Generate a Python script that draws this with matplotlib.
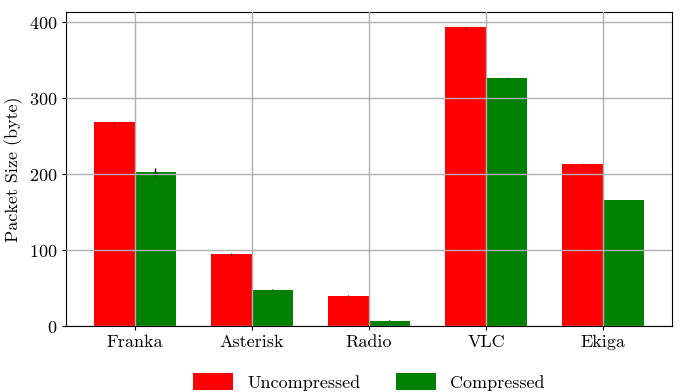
import matplotlib
matplotlib.use("Agg")
import matplotlib.pyplot as plt
import numpy as np

plt.rcParams['font.family'] = ['cmr10', 'DejaVu Serif']
plt.rcParams['mathtext.fontset'] = 'cm'
plt.rcParams['axes.formatter.use_mathtext'] = True
plt.rcParams['font.size'] = 13

apps = ['Franka', 'Asterisk', 'Radio', 'VLC', 'Ekiga']
uncompressed = [268, 95, 40, 393, 213]
compressed = [203, 48, 7, 326, 166]
err_unc = [1, 1, 0.5, 1, 1]
err_comp = [5, 1, 0.5, 0.5, 0.5]

x = np.arange(len(apps))
w = 0.35

fig, ax = plt.subplots(figsize=(6.8, 3.92), dpi=100)
ax.bar(x - w / 2, uncompressed, w, yerr=err_unc, color='red',
       error_kw=dict(ecolor='black', elinewidth=1), label='Uncompressed')
ax.bar(x + w / 2, compressed, w, yerr=err_comp, color='green',
       error_kw=dict(ecolor='black', elinewidth=1), label='Compressed')

ax.set_xticks(x)
ax.set_xticklabels(apps)
ax.set_ylabel('Packet Size (byte)')
ax.grid(True, color='#b0b0b0', linewidth=1)
ax.set_axisbelow(False)
ax.tick_params(length=3)

ax.legend(loc='center', bbox_to_anchor=(0.5, -0.178), ncol=2,
          frameon=False, handlelength=2.2, handleheight=1.0,
          columnspacing=2.0)

fig.subplots_adjust(left=0.097, right=0.988, top=0.97, bottom=0.168)
fig.savefig('out.png', dpi=100)
